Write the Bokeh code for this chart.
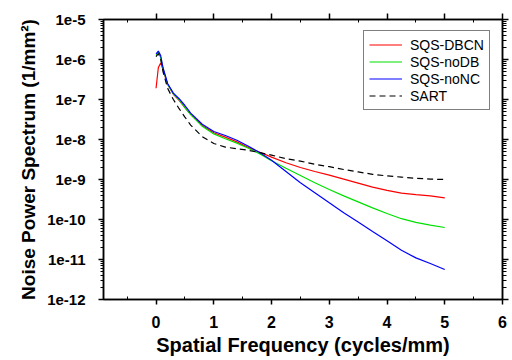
from bokeh.plotting import figure
from bokeh.models import (LinearAxis, LogAxis, FixedTicker, CustomJSTickFormatter,
                          Legend, LegendItem, Range1d)
from bokeh.embed import file_html
from bokeh.resources import INLINE

# ---- data (log10 of noise power spectrum) ----
freq = [0.0, 0.04, 0.08, 0.12, 0.2, 0.3, 0.4, 0.5, 0.6, 0.8, 1.0, 1.2, 1.4, 1.6,
        1.8, 2.0, 2.25, 2.5, 2.75, 3.0, 3.25, 3.5, 3.75, 4.0, 4.25, 4.5, 4.75, 5.0]

log_dbcn = [-6.72, -6.2, -6.09, -6.25, -6.62, -6.87, -7.02, -7.2, -7.37, -7.65, -7.83,
            -7.94, -8.06, -8.2, -8.32, -8.44, -8.58, -8.7, -8.8, -8.89, -8.99, -9.09,
            -9.19, -9.27, -9.34, -9.38, -9.41, -9.46]
log_nodb = [-5.9, -5.82, -5.95, -6.22, -6.62, -6.86, -7.01, -7.2, -7.38, -7.67, -7.86,
            -7.98, -8.09, -8.22, -8.36, -8.53, -8.72, -8.9, -9.08, -9.25, -9.41, -9.56,
            -9.71, -9.85, -9.98, -10.07, -10.14, -10.2]
log_nonc = [-5.86, -5.79, -5.9, -6.2, -6.6, -6.84, -6.98, -7.15, -7.34, -7.62, -7.8,
            -7.9, -8.02, -8.17, -8.33, -8.52, -8.8, -9.08, -9.33, -9.58, -9.83, -10.06,
            -10.3, -10.53, -10.77, -10.96, -11.1, -11.25]
log_sart = [-5.93, -5.85, -6.0, -6.3, -6.72, -7.0, -7.23, -7.44, -7.64, -7.93, -8.1,
            -8.19, -8.23, -8.27, -8.33, -8.39, -8.48, -8.54, -8.62, -8.68, -8.75, -8.81,
            -8.87, -8.91, -8.94, -8.97, -8.99, -9.0]

series_names = ["SQS-DBCN", "SQS-noDB", "SQS-noNC", "SART"]
x_ticks = [0, 1, 2, 3, 4, 5, 6]
y_exponents = [-12, -11, -10, -9, -8, -7, -6, -5]

FONT = "Liberation Sans"

p = figure(width=512, height=360, output_backend="svg", toolbar_location=None,
           y_axis_type="log", x_range=Range1d(-0.91, 6.0), y_range=Range1d(1e-12, 1e-5),
           min_border_left=103, min_border_right=10, min_border_top=19, min_border_bottom=61)
p.xgrid.visible = False
p.ygrid.visible = False
p.outline_line_color = "black"
p.outline_line_width = 1.5
p.background_fill_color = "white"
p.border_fill_color = "white"

def to_lin(vals):
    return [10 ** v for v in vals]

r1 = p.line(freq, to_lin(log_dbcn), line_color="#ff0000", line_width=1.2)
r2 = p.line(freq, to_lin(log_nodb), line_color="#00e000", line_width=1.2)
r3 = p.line(freq, to_lin(log_nonc), line_color="#0000ff", line_width=1.2)
r4 = p.line(freq, to_lin(log_sart), line_color="black", line_width=1.2, line_dash="6 4")

x_minor = [-0.5 + i for i in range(7)]
minor_y = [k * 10.0 ** e for e in y_exponents[:-1] for k in range(2, 10)]
yfmt = CustomJSTickFormatter(code="return '1e' + Math.round(Math.log10(tick));")

xa = p.xaxis[0]
xa.ticker = FixedTicker(ticks=x_ticks, minor_ticks=x_minor)
xa.axis_label = "Spatial Frequency (cycles/mm)"
xa.axis_label_text_font = FONT
xa.axis_label_text_font_style = "bold"
xa.axis_label_text_font_size = "20px"
xa.axis_label_text_color = "black"
xa.axis_label_standoff = 3
xa.major_label_text_font = FONT
xa.major_label_text_font_style = "bold"
xa.major_label_text_font_size = "16px"
xa.major_label_text_color = "black"
xa.major_label_standoff = 11
xa.major_tick_in = 0
xa.major_tick_out = 5
xa.minor_tick_in = 3
xa.minor_tick_out = 0
xa.axis_line_width = 1.5
xa.major_tick_line_width = 1.5

ya = p.yaxis[0]
ya.ticker = FixedTicker(ticks=[10.0 ** e for e in y_exponents], minor_ticks=minor_y)
ya.formatter = yfmt
ya.axis_label = "Noise Power Spectrum (1/mm²)"
ya.axis_label_text_font = FONT
ya.axis_label_text_font_style = "bold"
ya.axis_label_text_font_size = "19px"
ya.axis_label_text_color = "black"
ya.axis_label_standoff = 5
ya.major_label_text_font = FONT
ya.major_label_text_font_style = "bold"
ya.major_label_text_font_size = "15px"
ya.major_label_text_color = "black"
ya.major_label_standoff = 13
ya.major_tick_in = 0
ya.major_tick_out = 5
ya.minor_tick_in = 0
ya.minor_tick_out = 3
ya.axis_line_width = 1.5
ya.major_tick_line_width = 1.5

top = LinearAxis(ticker=FixedTicker(ticks=x_ticks, minor_ticks=x_minor),
                 major_label_text_color=None, major_label_text_font_size="8px",
                 major_label_standoff=0,
                 major_tick_in=0, major_tick_out=6,
                 minor_tick_in=3, minor_tick_out=0, axis_line_width=1.5,
                 major_tick_line_width=1.5)
p.add_layout(top, "above")

right = LogAxis(ticker=FixedTicker(ticks=[10.0 ** e for e in y_exponents], minor_ticks=minor_y),
                formatter=CustomJSTickFormatter(code="return '';"),
                major_label_text_color=None, major_label_text_font_size="8px",
                major_label_standoff=0,
                major_tick_in=0, major_tick_out=6,
                minor_tick_in=0, minor_tick_out=4, axis_line_width=1.5,
                major_tick_line_width=1.5)
p.add_layout(right, "right")

legend = Legend(items=[LegendItem(label=series_names[0], renderers=[r1]),
                       LegendItem(label=series_names[1], renderers=[r2]),
                       LegendItem(label=series_names[2], renderers=[r3]),
                       LegendItem(label=series_names[3], renderers=[r4])],
                location=(260, 189), label_text_font=FONT, label_text_font_size="14px",
                label_text_color="black",
                glyph_width=33, glyph_height=17, label_height=17, spacing=0,
                padding=5, margin=0, label_standoff=8,
                border_line_color="black", border_line_width=1,
                background_fill_alpha=1.0)
p.add_layout(legend, "center")

open("out.html", "w").write(file_html(p, INLINE))
